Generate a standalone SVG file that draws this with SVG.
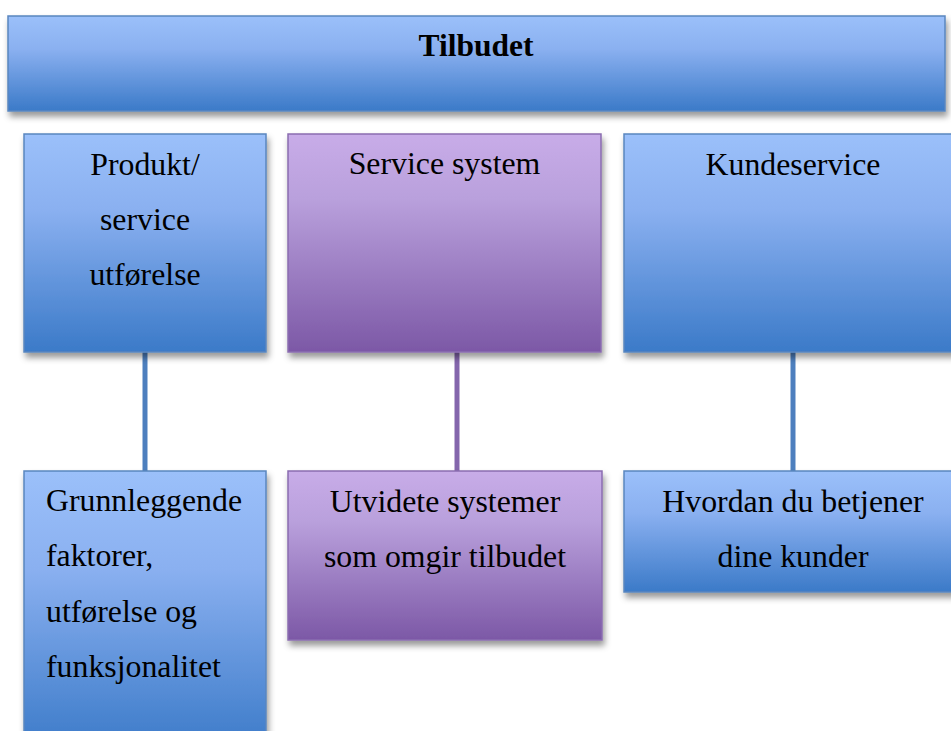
<svg xmlns="http://www.w3.org/2000/svg" width="951" height="731" viewBox="0 0 951 731">
<defs>
<linearGradient id="gBlue" x1="0" y1="0" x2="0" y2="1">
<stop offset="0" stop-color="#9bc0fa"/>
<stop offset="0.35" stop-color="#8ab0f0"/>
<stop offset="1" stop-color="#3b7ac8"/>
</linearGradient>
<linearGradient id="gPurple" x1="0" y1="0" x2="0" y2="1">
<stop offset="0" stop-color="#c8ace8"/>
<stop offset="0.3" stop-color="#b9a0dc"/>
<stop offset="1" stop-color="#7c58a6"/>
</linearGradient>
<filter id="sh" x="-10%" y="-10%" width="125%" height="130%">
<feDropShadow dx="2" dy="5" stdDeviation="3" flood-color="#000" flood-opacity="0.4"/>
</filter>
<style>
.b{fill:url(#gBlue);stroke:#5a86bf;stroke-width:1.5;filter:url(#sh)}
.p{fill:url(#gPurple);stroke:#8a6cb0;stroke-width:1.5;filter:url(#sh)}
text{font-family:"Liberation Serif","Times New Roman",serif;font-size:31.8px;fill:#000}
.c{text-anchor:middle}
.t{font-weight:bold;font-size:31.5px}
.lb{stroke:#4d7fbe;stroke-width:5;fill:none}
.lp{stroke:#8466ac;stroke-width:5;fill:none}
</style>
</defs>
<g id="connectors">
<line class="lb" x1="145" y1="352" x2="145" y2="471"/>
<line class="lp" x1="457" y1="352" x2="457" y2="471"/>
<line class="lb" x1="793" y1="352" x2="793" y2="471"/>
</g>
<g id="tilbudet">
<rect class="b" x="8" y="16" width="937" height="95"/>
<text class="c t" x="476" y="56">Tilbudet</text>
</g>
<g id="produkt">
<rect class="b" x="24" y="134" width="242" height="218"/>
<text class="c" x="145" y="175">Produkt/</text>
<text class="c" x="145" y="230">service</text>
<text class="c" x="145" y="285">utførelse</text>
</g>
<g id="servicesystem">
<rect class="p" x="288" y="134" width="313" height="218"/>
<text class="c" x="444.5" y="174">Service system</text>
</g>
<g id="kundeservice">
<rect class="b" x="624" y="134" width="338" height="218"/>
<text class="c" x="793" y="175">Kundeservice</text>
</g>
<g id="grunnleggende">
<rect class="b" x="24" y="471" width="242" height="280"/>
<text x="46" y="511">Grunnleggende</text>
<text x="46" y="566">faktorer,</text>
<text x="46" y="622">utførelse og</text>
<text x="46" y="677">funksjonalitet</text>
</g>
<g id="utvidete">
<rect class="p" x="288" y="471" width="314" height="169"/>
<text class="c" x="445" y="512">Utvidete systemer</text>
<text class="c" x="445" y="567">som omgir tilbudet</text>
</g>
<g id="hvordan">
<rect class="b" x="624" y="471" width="338" height="121"/>
<text class="c" x="793" y="512">Hvordan du betjener</text>
<text class="c" x="793" y="567">dine kunder</text>
</g>
</svg>
